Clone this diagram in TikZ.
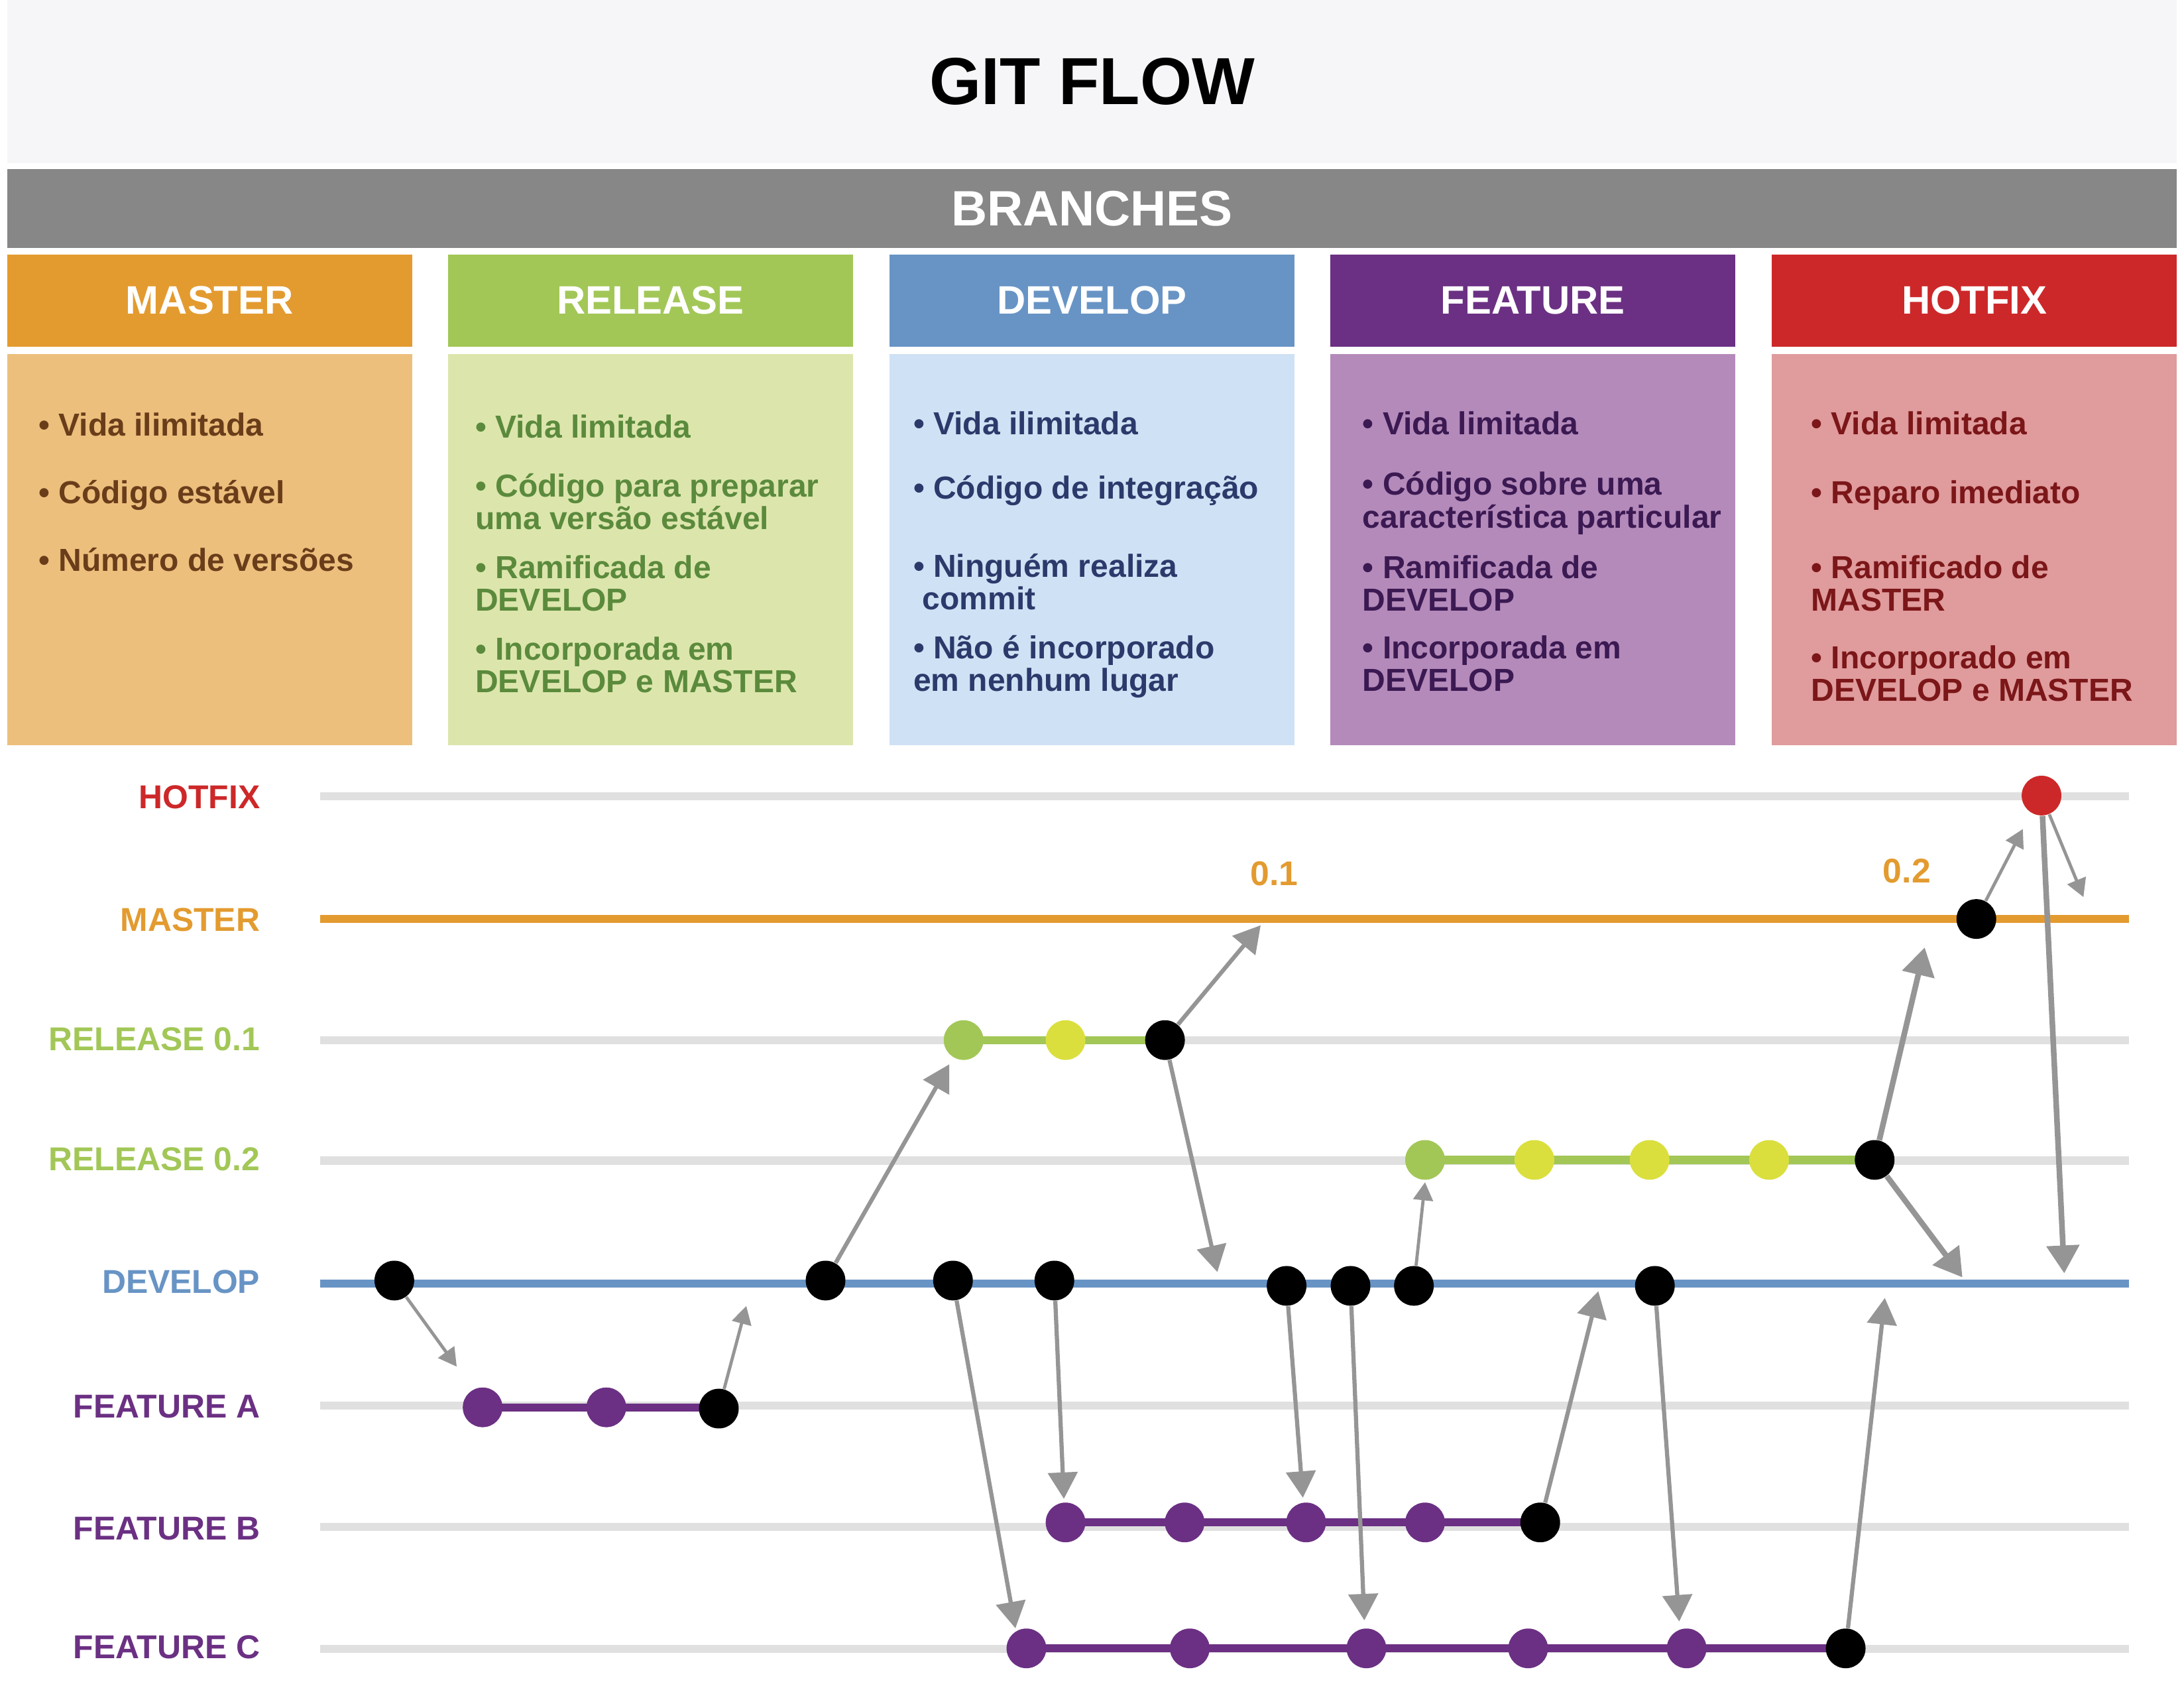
\documentclass[tikz,border=0pt]{standalone}
\usepackage{fontspec}
\setmainfont{Liberation Sans}
\usetikzlibrary{arrows.meta,backgrounds}
\definecolor{laranja}{HTML}{E39B30}
\definecolor{laranjaClaro}{HTML}{EDBF7D}
\definecolor{marrom}{HTML}{6A3D1A}
\definecolor{verde}{HTML}{A2C757}
\definecolor{verdeClaro}{HTML}{DCE6AC}
\definecolor{verdeEscuro}{HTML}{5B8A3C}
\definecolor{azul}{HTML}{6894C5}
\definecolor{azulClaro}{HTML}{CFE1F4}
\definecolor{azulEscuro}{HTML}{2B3A6B}
\definecolor{roxo}{HTML}{6B3083}
\definecolor{roxoClaro}{HTML}{B48ABA}
\definecolor{roxoEscuro}{HTML}{3B1952}
\definecolor{vermelho}{HTML}{CD2829}
\definecolor{vermelhoClaro}{HTML}{E09B9C}
\definecolor{vermelhoEscuro}{HTML}{7B1619}
\definecolor{amarelo}{HTML}{DADF3E}
\definecolor{cinzaFundo}{HTML}{F6F6F8}
\definecolor{cinzaBarra}{HTML}{878787}
\definecolor{cinzaRamo}{HTML}{E0E0E0}
\definecolor{cinzaSeta}{HTML}{959595}
\tikzset{faixa/.style={fill=#1,minimum width=31.16cm,inner sep=0pt}, }
\tikzset{cabeca/.style={fill=#1,text=white,minimum width=5.82cm,minimum height=1.33cm,
    inner sep=0pt,font=\fontsize{16.2pt}{19pt}\selectfont\bfseries}, }
\tikzset{corpo/.style={fill=#1,minimum width=5.82cm,minimum height=5.62cm,inner sep=0pt}, }
\tikzset{item/.style={anchor=base west,align=left,inner sep=0pt,text=#1,
    font=\fontsize{13pt}{13.3pt}\selectfont\bfseries}, }
\tikzset{rotulo/.style={anchor=east,inner sep=0pt,text=#1,
    font=\fontsize{13.5pt}{16pt}\selectfont\bfseries}, }
\tikzset{versao/.style={inner sep=0pt,text=laranja,font=\fontsize{14pt}{16pt}\selectfont\bfseries}, }
\tikzset{commit/.style={circle,fill=#1,minimum size=0.57cm,inner sep=0pt}, commit/.default=black}
\tikzset{ramo/.style={line width=3.3pt,draw=cinzaRamo}}
\tikzset{trecho/.style={line width=3.3pt,draw=#1}}
\tikzset{seta/.style={draw=cinzaSeta,line width=1.7pt,-{Triangle[length=0.38cm,width=0.42cm]}}}
\tikzset{seta fina/.style={draw=cinzaSeta,line width=1.3pt,-{Triangle[length=0.26cm,width=0.28cm]}}}
\tikzset{seta grossa/.style={draw=cinzaSeta,line width=2.3pt,-{Triangle[length=0.4cm,width=0.46cm]}}}

\begin{document}
\begin{tikzpicture}[x=0.02cm,y=-0.02cm]
  \useasboundingbox (0,0) rectangle (1568,1214);
  % titulo e faixa
  \node[faixa=cinzaFundo,minimum height=2.34cm,font=\fontsize{27.2pt}{32pt}\selectfont\bfseries] (titulo) at (784,58.5) {GIT FLOW};
  \node[faixa=cinzaBarra,minimum height=1.13cm,text=white,font=\fontsize{20.3pt}{24pt}\selectfont\bfseries] (branches) at (784,149.75) {BRANCHES};
  % colunas
  \node[cabeca=laranja] (cMaster) at (150.5,215.75) {MASTER};
  \node[cabeca=verde] (cRelease) at (467,215.75) {RELEASE};
  \node[cabeca=azul] (cDevelop) at (784,215.75) {DEVELOP};
  \node[cabeca=roxo] (cFeature) at (1100.5,215.75) {FEATURE};
  \node[cabeca=vermelho] (cHotfix) at (1417.5,215.75) {HOTFIX};
  \node[corpo=laranjaClaro] (bMaster) at (150.5,394.5) {};
  \node[corpo=verdeClaro] (bRelease) at (467,394.5) {};
  \node[corpo=azulClaro] (bDevelop) at (784,394.5) {};
  \node[corpo=roxoClaro] (bFeature) at (1100.5,394.5) {};
  \node[corpo=vermelhoClaro] (bHotfix) at (1417.5,394.5) {};
  % textos (base da ultima linha)
  \node[item=marrom] (iM1) at (27.5,312.8) {• Vida ilimitada};
  \node[item=marrom] (iM2) at (27.5,361.4) {• Código estável};
  \node[item=marrom] (iM3) at (27.5,410) {• Número de versões};
  \node[item=verdeEscuro] (iR1) at (341,314.3) {• Vida limitada};
  \node[item=verdeEscuro] (iR2) at (341,380) {• Código para preparar\\uma versão estável};
  \node[item=verdeEscuro] (iR3) at (341,438.6) {• Ramificada de\\DEVELOP};
  \node[item=verdeEscuro] (iR4) at (341,497.2) {• Incorporada em\\DEVELOP e MASTER};
  \node[item=azulEscuro] (iD1) at (655.5,312) {• Vida ilimitada};
  \node[item=azulEscuro] (iD2) at (655.5,358.3) {• Código de integração};
  \node[item=azulEscuro] (iD3) at (655.5,437.4) {• Ninguém realiza\\\hspace{0.28em}commit};
  \node[item=azulEscuro] (iD4) at (655.5,496) {• Não é incorporado\\em nenhum lugar};
  \node[item=roxoEscuro] (iF1) at (978,312) {• Vida limitada};
  \node[item=roxoEscuro] (iF2) at (978,378.8) {• Código sobre uma\\característica particular};
  \node[item=roxoEscuro] (iF3) at (978,438.4) {• Ramificada de\\DEVELOP};
  \node[item=roxoEscuro] (iF4) at (978,496) {• Incorporada em\\DEVELOP};
  \node[item=vermelhoEscuro] (iH1) at (1300,312) {• Vida limitada};
  \node[item=vermelhoEscuro] (iH2) at (1300,361.4) {• Reparo imediato};
  \node[item=vermelhoEscuro] (iH3) at (1300,438.4) {• Ramificado de\\MASTER};
  \node[item=vermelhoEscuro] (iH4) at (1300,503.1) {• Incorporado em\\DEVELOP e MASTER};
  % rotulos dos ramos
  \node[rotulo=vermelho] (lHotfix) at (187,572) {HOTFIX};
  \node[rotulo=laranja] (lMaster) at (187,660) {MASTER};
  \node[rotulo=verde] (lRel1) at (187,746) {RELEASE 0.1};
  \node[rotulo=verde] (lRel2) at (187,832) {RELEASE 0.2};
  \node[rotulo=azul] (lDevelop) at (187,920) {DEVELOP};
  \node[rotulo=roxo] (lFeatA) at (187,1009.5) {FEATURE A};
  \node[rotulo=roxo] (lFeatB) at (187,1097) {FEATURE B};
  \node[rotulo=roxo] (lFeatC) at (187,1182) {FEATURE C};
  \node[versao] (v1) at (915,627) {0.1};
  \node[versao] (v2) at (1369,625) {0.2};
  % commits
  \node[commit=vermelho] (h1) at (1465.7,571) {};
  \node[commit] (m1) at (1418.9,659.6) {};
  \node[commit=verde] (ra1) at (691.8,746.5) {};
  \node[commit=amarelo] (ra2) at (765,746.5) {};
  \node[commit] (ra3) at (836.4,746.5) {};
  \node[commit=verde] (rb1) at (1023.1,832.5) {};
  \node[commit=amarelo] (rb2) at (1101.6,832.5) {};
  \node[commit=amarelo] (rb3) at (1184.3,832.5) {};
  \node[commit=amarelo] (rb4) at (1270.1,832.5) {};
  \node[commit] (rb5) at (1345.9,832.5) {};
  \node[commit] (d1) at (283.1,919.1) {};
  \node[commit] (d2) at (592.7,919.1) {};
  \node[commit] (d3) at (684.2,919.1) {};
  \node[commit] (d4) at (757,919.1) {};
  \node[commit] (d5) at (923.7,922.9) {};
  \node[commit] (d6) at (969.6,922.9) {};
  \node[commit] (d7) at (1015.1,922.9) {};
  \node[commit] (d8) at (1188.1,922.9) {};
  \node[commit=roxo] (fa1) at (346.5,1010.1) {};
  \node[commit=roxo] (fa2) at (435.3,1010.1) {};
  \node[commit] (fa3) at (516.1,1011) {};
  \node[commit=roxo] (fb1) at (765,1092.7) {};
  \node[commit=roxo] (fb2) at (850.5,1092.7) {};
  \node[commit=roxo] (fb3) at (937.7,1092.7) {};
  \node[commit=roxo] (fb4) at (1023.1,1092.7) {};
  \node[commit] (fb5) at (1105.8,1092.7) {};
  \node[commit=roxo] (fc1) at (736.9,1183.1) {};
  \node[commit=roxo] (fc2) at (854.2,1183.1) {};
  \node[commit=roxo] (fc3) at (981,1183.1) {};
  \node[commit=roxo] (fc4) at (1097.1,1183.1) {};
  \node[commit=roxo] (fc5) at (1210.9,1183.1) {};
  \node[commit] (fc6) at (1325.1,1183.1) {};
  % ramos
  \begin{pgfonlayer}{background}
    \foreach \y in {571.5,746.6,833,1008.9,1095.9,1183.5}
      \draw[ramo] (230,\y) -- (1528.5,\y);
    \draw[ramo,draw=laranja] (230,659.6) -- (1528.5,659.6);
    \draw[ramo,draw=azul] (230,921.4) -- (1528.5,921.4);
    \foreach \x/\y/\c in {ra1/ra3/verde,rb1/rb5/verde,fa1/fa3/roxo,fb1/fb5/roxo,fc1/fc6/roxo}
      \draw[trecho=\c] (\x.center) -- (\x.center -| \y.center);
  \end{pgfonlayer}
  % pontas das setas
  \coordinate (t1) at (327.9,980.9);
  \coordinate (t2) at (535.8,937.3);
  \coordinate (t3) at (681.5,763.9);
  \coordinate (t4) at (905.1,664.1);
  \coordinate (t5) at (874,913);
  \coordinate (t6) at (729,1168.7);
  \coordinate (t7) at (763.8,1075.8);
  \coordinate (t8) at (935.4,1075);
  \coordinate (t9) at (979.5,1163);
  \coordinate (t10) at (1023.1,848.5);
  \coordinate (t11) at (1147.5,926.7);
  \coordinate (t12) at (1205.6,1163.8);
  \coordinate (t13) at (1353.2,931.6);
  \coordinate (t14) at (1381.8,680);
  \coordinate (t15) at (1408.9,916.8);
  \coordinate (t16) at (1452.3,595);
  \coordinate (t17) at (1495.8,643.9);
  \coordinate (t18) at (1482,913.9);
  \foreach \x/\y in {d1/t1,fa3/t2,d7/t10,m1/t16,h1/t17}
    \draw[seta fina] (\x) -- (\y);
  \foreach \x/\y in {d2/t3,ra3/t4,ra3/t5,d3/t6,d4/t7,d5/t8,d6/t9,fb5/t11,d8/t12,fc6/t13}
    \draw[seta] (\x) -- (\y);
  \foreach \x/\y in {rb5/t14,rb5/t15,h1/t18}
    \draw[seta grossa] (\x) -- (\y);
\end{tikzpicture}
\end{document}
